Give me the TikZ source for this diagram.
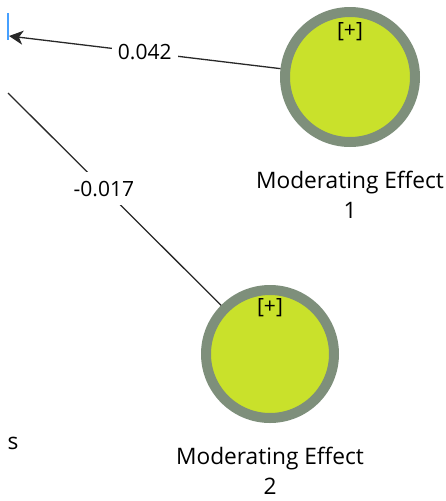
\documentclass[tikz,border=0pt]{standalone}
\usepackage{fontspec}
\setmainfont{Open Sans}
\usetikzlibrary{positioning,arrows.meta}
\definecolor{lvfill}{RGB}{201,225,43}
\definecolor{lvring}{RGB}{126,143,123}
\definecolor{linkgray}{RGB}{40,40,40}
\definecolor{selblue}{RGB}{70,160,255}

\begin{document}
\begin{tikzpicture}[x=1pt, y=-1pt, >={Stealth[length=14pt, width=14pt, inset=4pt]},
    node distance=24pt,
    latent/.style={circle, draw=lvring, fill=lvfill, line width=10pt,
        minimum size=130pt, inner sep=0pt},
    plusmark/.style={font=\fontsize{21}{24}\selectfont, inner sep=0pt},
    lvname/.style={font=\fontsize{22.7}{30}\selectfont, align=center, inner sep=0pt},
    coef/.style={fill=white, font=\fontsize{21}{24}\selectfont,
        inner xsep=6pt, inner ysep=9pt},
    link/.style={draw=linkgray, line width=1.3pt}]
\useasboundingbox (0,0) rectangle (445,501);
\node[latent] (mod1) at (350,77) {};
\node[latent, minimum size=128pt] (mod2) at (270,354) {};
\node[plusmark] (mod1plus) at (350,32) {[+]};
\node[plusmark] (mod2plus) at (270,308) {[+]};
\node[lvname, below=of mod1] (mod1name) {Moderating Effect\\1};
\node[lvname, below=of mod2] (mod2name) {Moderating Effect\\2};
\node[lvname] (outname) at (13,443) {s};
\coordinate (out1) at (9,36);
\coordinate (out2) at (8,93);
\draw[selblue, line width=1.5pt] (8,13) -- (8,40);
\draw[link, ->] (mod1) -- node[coef, pos=0.5] {0.042} (out1);
\draw[link] (mod2) -- node[coef, pos=0.55] {-0.017} (out2);
\end{tikzpicture}
\end{document}
